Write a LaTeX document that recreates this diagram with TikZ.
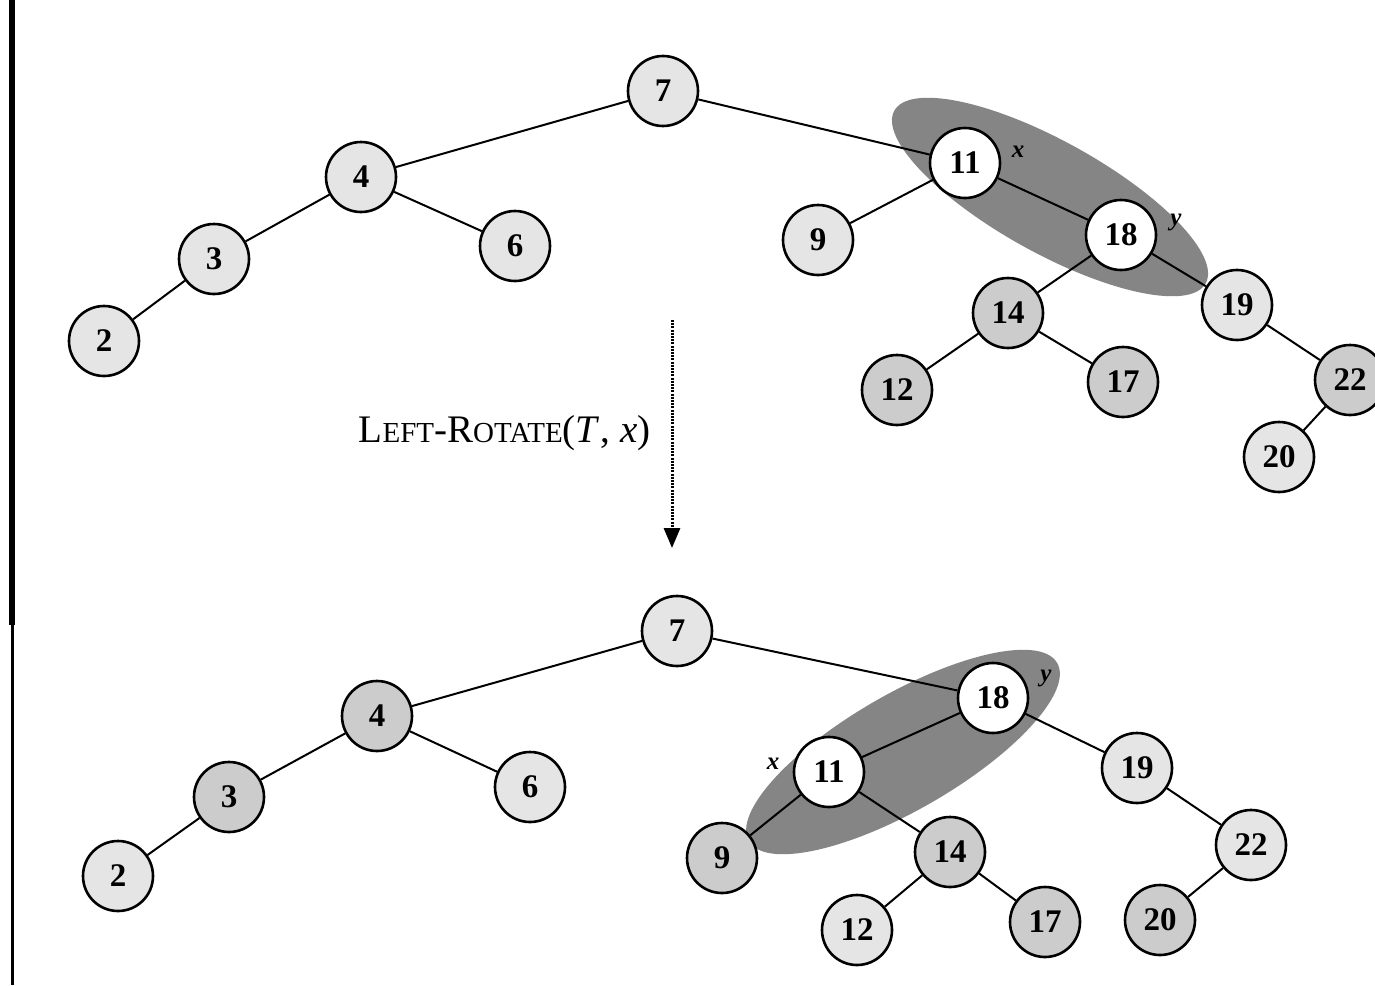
\documentclass[tikz,border=0pt]{standalone}
\usepackage{fontspec}
\setmainfont{Liberation Serif}
\usetikzlibrary{arrows.meta}
\definecolor{nlight}{gray}{0.90}
\definecolor{ndark}{gray}{0.80}
\definecolor{shade}{gray}{0.52}
\tikzset{
  tn/.style={circle, draw=black, line width=2.6pt, minimum size=70pt, inner sep=0pt,
    fill=nlight, font=\fontsize{33}{33}\selectfont\bfseries},
  tnd/.style={tn, fill=ndark},
  tnw/.style={tn, fill=white},
  edge/.style={line width=2pt},
  ptr/.style={font=\fontsize{25}{25}\selectfont\itshape\bfseries},
  zone/.style={fill=shade, draw=none}
}
\newcommand{\smc}[1]{{\fontsize{29}{29}\selectfont #1}}
\begin{document}
\begin{tikzpicture}[x=1pt,y=-1pt]
\useasboundingbox (0,0) rectangle (1375,985);
\fill[white] (0,0) rectangle (1375,985);
% page rule on the left
\draw[line width=6pt] (12,0) -- (12,625);
\draw[line width=3pt] (12,625) -- (12,985);

% ---------- before the rotation ----------
\fill[zone] (1050,197) ellipse [x radius=178, y radius=56, rotate=-29];
\node[tn]  (a7)  at (663,91)  {7};
\node[tn]  (a4)  at (361,177) {4};
\node[tn]  (a3)  at (214,259) {3};
\node[tn]  (a6)  at (515,246) {6};
\node[tn]  (a2)  at (104,341) {2};
\node[tnw] (a11) at (965,163) {11};
\node[tn]  (a9)  at (818,240) {9};
\node[tnw] (a18) at (1121,235) {18};
\node[tnd] (a14) at (1008,313) {14};
\node[tn]  (a19) at (1237,305) {19};
\node[tnd] (a12) at (897,390) {12};
\node[tnd] (a17) at (1123,382) {17};
\node[tnd] (a22) at (1350,380) {22};
\node[tn]  (a20) at (1279,457) {20};
\node[ptr] (ax) at (1018,152) {x};
\node[ptr] (ay) at (1176,222) {y};
\draw[edge] (a7) -- (a4);
\draw[edge] (a7) -- (a11);
\draw[edge] (a4) -- (a3);
\draw[edge] (a4) -- (a6);
\draw[edge] (a3) -- (a2);
\draw[edge] (a11) -- (a9);
\draw[edge] (a11) -- (a18);
\draw[edge] (a18) -- (a14);
\draw[edge] (a18) -- (a19);
\draw[edge] (a14) -- (a12);
\draw[edge] (a14) -- (a17);
\draw[edge] (a19) -- (a22);
\draw[edge] (a22) -- (a20);

% ---------- the operation ----------
\coordinate (rs) at (672,320);
\coordinate (re) at (672,548);
\draw[line width=3pt, dash pattern=on 2pt off 1.2pt,
  -{Triangle[width=16pt,length=20pt]}] (rs) -- (re);
\node[anchor=east, font=\fontsize{39}{39}\selectfont] (op) at (654,433)
  {L\smc{EFT}-R\smc{OTATE}(\textit{T}\kern1pt, \textit{x})};

% ---------- after the rotation ----------
\fill[zone] (903,752) ellipse [x radius=178, y radius=58, rotate=30];
\node[tn]  (b7)  at (677,631) {7};
\node[tnd] (b4)  at (377,716) {4};
\node[tnd] (b3)  at (229,797) {3};
\node[tn]  (b6)  at (530,787) {6};
\node[tn]  (b2)  at (118,876) {2};
\node[tnw] (b18) at (993,698) {18};
\node[tnw] (b11) at (829,772) {11};
\node[tn]  (b19) at (1137,768) {19};
\node[tnd] (b9)  at (722,858) {9};
\node[tnd] (b14) at (950,852) {14};
\node[tn]  (b22) at (1251,845) {22};
\node[tn]  (b12) at (857,930) {12};
\node[tnd] (b17) at (1045,922) {17};
\node[tnd] (b20) at (1160,920) {20};
\node[ptr] (by) at (1046,678) {y};
\node[ptr] (bx) at (773,764) {x};
\draw[edge] (b7) -- (b4);
\draw[edge] (b7) -- (b18);
\draw[edge] (b4) -- (b3);
\draw[edge] (b4) -- (b6);
\draw[edge] (b3) -- (b2);
\draw[edge] (b18) -- (b11);
\draw[edge] (b18) -- (b19);
\draw[edge] (b11) -- (b9);
\draw[edge] (b11) -- (b14);
\draw[edge] (b14) -- (b12);
\draw[edge] (b14) -- (b17);
\draw[edge] (b19) -- (b22);
\draw[edge] (b22) -- (b20);
\end{tikzpicture}
\end{document}
